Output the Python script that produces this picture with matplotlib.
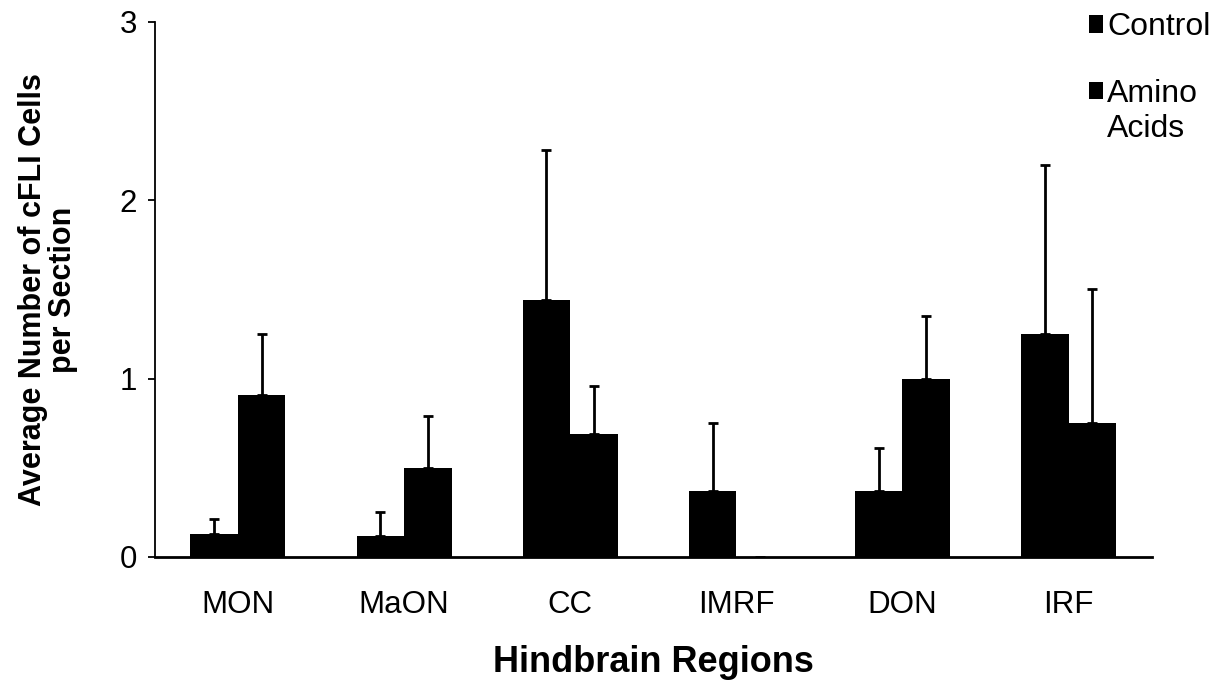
import numpy as np
import matplotlib
matplotlib.use('Agg')
import matplotlib.pyplot as plt

plt.rcParams['font.family'] = ['Liberation Sans', 'DejaVu Sans']

regions = ['MON', 'MaON', 'CC', 'IMRF', 'DON', 'IRF']
control = [0.13, 0.12, 1.44, 0.37, 0.37, 1.25]
control_err = [0.08, 0.13, 0.84, 0.38, 0.24, 0.95]
amino = [0.91, 0.50, 0.69, 0.0, 1.00, 0.75]
amino_err = [0.34, 0.29, 0.27, 0.0, 0.35, 0.75]

x = np.arange(len(regions))
w = 0.286

fig = plt.figure(figsize=(12.29, 6.85), dpi=100)
ax = fig.add_axes([0.126, 0.187, 0.811, 0.781])

err_kw = dict(ecolor='black', elinewidth=2, capsize=3.5, capthick=2)
ax.bar(x - w / 2, control, w, color='black', label='Control',
       yerr=[np.zeros(len(x)), control_err], error_kw=err_kw)
# amino acids in IMRF is zero, so no error bar there
a_err = np.array(amino_err)
ax.bar(x + w / 2, amino, w, color='black', label='Amino',
       yerr=[np.zeros(len(x)), np.where(a_err > 0, a_err, np.nan)], error_kw=err_kw)

ax.set_xlim(-0.5, 5.5)
ax.set_ylim(0, 3)
ax.set_yticks([0, 1, 2, 3])
ax.set_xticks(x)
ax.set_xticklabels(regions, fontsize=22.5)
ax.tick_params(axis='x', length=0, pad=24)
ax.tick_params(axis='y', labelsize=22.5, length=5, width=1.3, direction='out', pad=8)

for s in ['top', 'right']:
    ax.spines[s].set_visible(False)
ax.spines['left'].set_linewidth(1.3)
ax.spines['bottom'].set_linewidth(2)

ax.set_xlabel('Hindbrain Regions', fontsize=26, fontweight='bold', labelpad=18)
ax.set_ylabel('Average Number of cFLI Cells\nper Section', fontsize=22,
              fontweight='bold', labelpad=30, linespacing=1.0)

leg = ax.legend(loc='upper left', bbox_to_anchor=(0.886, 0.982),
                bbox_transform=fig.transFigure, frameon=False, fontsize=23,
                handlelength=0.45, handleheight=0.45, handletextpad=0.12,
                borderpad=0, borderaxespad=0, labelspacing=1.15)
# second line of the "Amino Acids" legend entry
fig.text(1107 / 1229, 1 - 137 / 685, 'Acids', fontsize=23, ha='left', va='baseline')

fig.savefig('out.png', dpi=100)
